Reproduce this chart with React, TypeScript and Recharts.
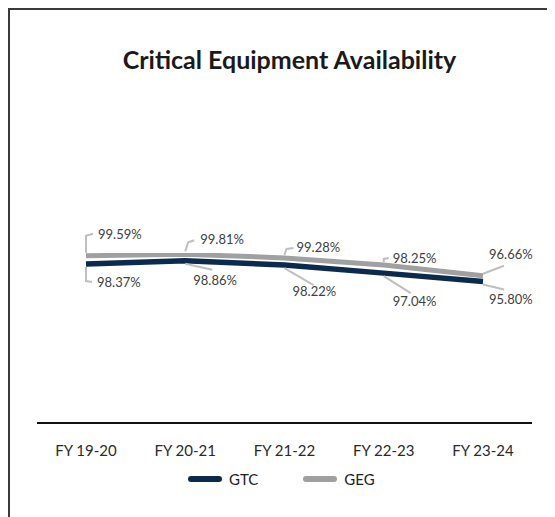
import React from "react";
import { LineChart, Line, XAxis, YAxis, LabelList } from "recharts";

const categories = ["FY 19-20", "FY 20-21", "FY 21-22", "FY 22-23", "FY 23-24"];
const gtcValues = [98.37, 98.86, 98.22, 97.04, 95.8];
const gegValues = [99.59, 99.81, 99.28, 98.25, 96.66];
const seriesNames = ["GTC", "GEG"];

const data = categories.map((name, i) => ({
  name,
  GTC: gtcValues[i],
  GEG: gegValues[i],
}));

const FONT = "Lato, 'Liberation Sans', sans-serif";
const GTC_COLOR = "#0c2a4e";
const GEG_COLOR = "#a0a0a0";
const LEADER = "#bfbfbf";

// callout placement relative to each point (text start + leader path)
const gegCallouts = [
  { dx: 12, dy: -22, leader: "M0,-3 L0,-20 L7,-22" },
  { dx: 15, dy: -15, leader: "M0,-3 L3,-12 L9,-14" },
  { dx: 12, dy: -11, leader: "M0,-3 L2,-9 L9,-10" },
  { dx: 9, dy: -7, leader: "M0,-3 L0,-6 L5,-7" },
  { dx: 6, dy: -22, leader: "M0,-2 L21,-10" },
];
const gtcCallouts = [
  { dx: 11, dy: 18, leader: "M0,3 L0,17 L6,18" },
  { dx: 8, dy: 19, leader: "M0,3 L27,9" },
  { dx: 8, dy: 26, leader: "M0,3 L29,20" },
  { dx: 9, dy: 28, leader: "M0,3 L27,20" },
  { dx: 6, dy: 17, leader: "M0,3 L21,8" },
];

const makeCallout = (layout: typeof gegCallouts) => (props: any) => {
  const { x, y, index, value } = props;
  const c = layout[index];
  if (!c) return null;
  return (
    <g transform={`translate(${x},${y})`}>
      <path d={c.leader} stroke={LEADER} strokeWidth={2} fill="none" />
      <text
        x={c.dx}
        y={c.dy}
        textAnchor="start"
        dominantBaseline="central"
        fontSize={13}
        fontFamily={FONT}
        fill="#404040"
      >
        {`${Number(value).toFixed(2)}%`}
      </text>
    </g>
  );
};

const legendColors: Record<string, string> = { GTC: GTC_COLOR, GEG: GEG_COLOR };

export default function App() {
  return (
    <div
      style={{
        position: "relative",
        width: 547,
        height: 509,
        borderTop: "2px solid #3a3a3a",
        borderLeft: "2px solid #3a3a3a",
        boxSizing: "border-box",
        background: "#fff",
      }}
    >
      <div
        style={{
          position: "absolute",
          top: 34,
          left: 6,
          width: 547,
          textAlign: "center",
          fontFamily: FONT,
          fontWeight: 700,
          fontSize: 25,
          lineHeight: "30px",
          color: "#1a1a1a",
        }}
      >
        Critical Equipment Availability
      </div>
      <div style={{ position: "absolute", top: -2, left: -2 }}>
        <LineChart
          width={547}
          height={509}
          data={data}
          margin={{ top: 245, right: 23, left: 29, bottom: 64 }}
        >
          <XAxis
            dataKey="name"
            padding={{ left: 49, right: 49 }}
            axisLine={{ stroke: "#111", strokeWidth: 2 }}
            tickLine={false}
            tickMargin={16}
            tick={{ fontSize: 15, fill: "#2a2a2a", fontFamily: FONT }}
          />
          <YAxis hide domain={[75, 100]} allowDataOverflow />
          <Line
            type="linear"
            dataKey="GEG"
            stroke={GEG_COLOR}
            strokeWidth={5}
            dot={false}
            isAnimationActive={false}
          >
            <LabelList dataKey="GEG" content={makeCallout(gegCallouts)} />
          </Line>
          <Line
            type="linear"
            dataKey="GTC"
            stroke={GTC_COLOR}
            strokeWidth={5.5}
            dot={false}
            isAnimationActive={false}
          >
            <LabelList dataKey="GTC" content={makeCallout(gtcCallouts)} />
          </Line>
        </LineChart>
      </div>
      <div
        style={{
          position: "absolute",
          top: 459,
          left: 178,
          height: 20,
          display: "flex",
          alignItems: "center",
          fontFamily: FONT,
          fontSize: 15,
          color: "#222",
        }}
      >
        {seriesNames.map((name, i) => (
          <div key={name} style={{ display: "flex", alignItems: "center", marginLeft: i ? 45 : 0 }}>
            <svg width={34} height={8}>
              <line x1={3} y1={4} x2={31} y2={4} stroke={legendColors[name]} strokeWidth={6} strokeLinecap="round" />
            </svg>
            <span style={{ marginLeft: 7 }}>{name}</span>
          </div>
        ))}
      </div>
    </div>
  );
}
